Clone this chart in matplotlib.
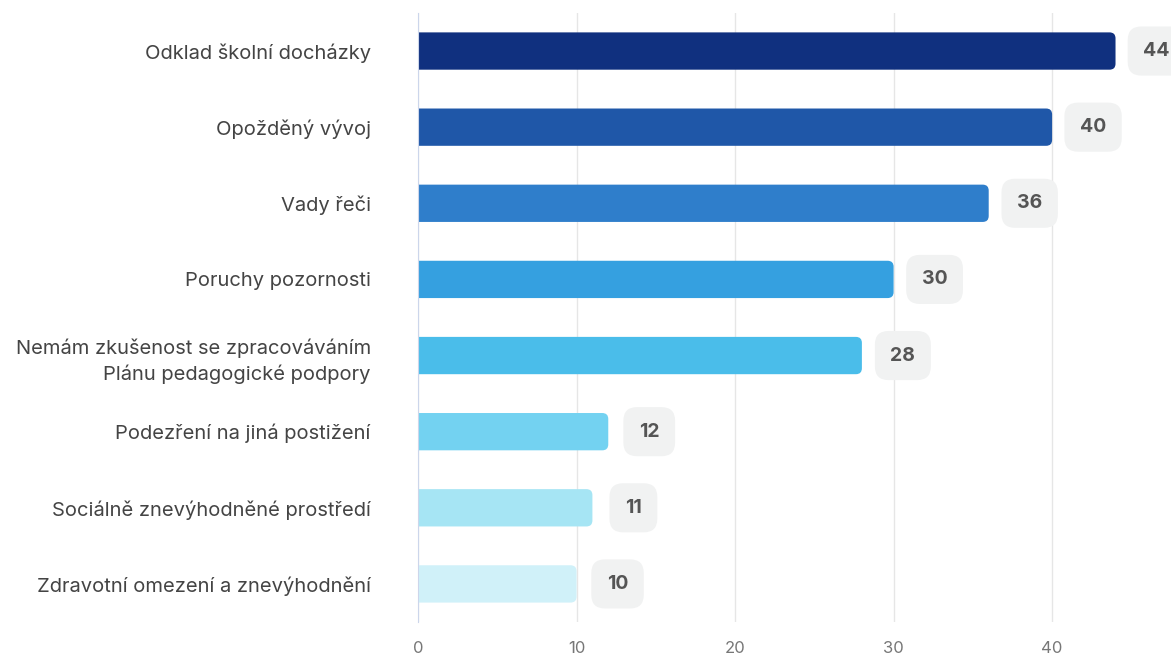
import matplotlib.pyplot as plt
from matplotlib.patches import FancyBboxPatch

plt.rcParams["font.family"] = ["Inter", "DejaVu Sans"]

categories = [
    "Odklad školní docházky",
    "Opožděný vývoj",
    "Vady řeči",
    "Poruchy pozornosti",
    "Nemám zkušenost se zpracováváním\nPlánu pedagogické podpory",
    "Podezření na jiná postižení",
    "Sociálně znevýhodněné prostředí",
    "Zdravotní omezení a znevýhodnění",
]
values = [44, 40, 36, 30, 28, 12, 11, 10]
colors = ["#10307f", "#1f57a8", "#2f7ecb", "#35a0e0", "#4abdea",
          "#73d2f1", "#a6e5f4", "#d0f1f9"]
x_ticks = [0, 10, 20, 30, 40]

fig = plt.figure(figsize=(11.71, 6.55), dpi=100)
ax = fig.add_axes([0.357, 0.0504, 0.643, 0.9298])
ax.set_xlim(0, 47.5)
ax.set_ylim(len(categories) - 0.5, -0.5)

# px per data unit, used to keep the corner rounding circular
px_x = 0.643 * 1171 / 47.5
px_y = 0.9298 * 655 / len(categories)
aspect = px_x / px_y
radius = 6 / px_x
bar_h = 0.49

for i, (v, c) in enumerate(zip(values, colors)):
    bar = FancyBboxPatch(
        (-1, i - bar_h / 2), v + 1, bar_h,
        boxstyle=f"round,pad=0,rounding_size={radius}",
        mutation_aspect=aspect, facecolor=c, edgecolor="none", zorder=3,
    )
    ax.add_patch(bar)
    ax.annotate(
        str(v), xy=(v, i), xytext=(29.5, 0), textcoords="offset points",
        ha="center", va="center", fontsize=14, fontweight="bold", color="#555555",
        bbox=dict(boxstyle="round,pad=0.8,rounding_size=0.7", facecolor="#f1f2f2",
                  edgecolor="none"),
        annotation_clip=False, zorder=4,
    )

ax.set_yticks(range(len(categories)))
ax.set_yticklabels(categories, fontsize=14.5, color="#444444", linespacing=1.45)
ax.set_xticks(x_ticks)
ax.tick_params(axis="both", length=0)
ax.tick_params(axis="y", pad=34)
ax.tick_params(axis="x", pad=14, labelsize=12, labelcolor="#777777")
for lbl in ax.get_yticklabels():
    lbl.set_horizontalalignment("right")

ax.grid(axis="x", color="#e6e6e6", linewidth=1, zorder=0)
for side in ("top", "right", "bottom"):
    ax.spines[side].set_visible(False)
ax.spines["left"].set_color("#ccd6eb")
ax.spines["left"].set_zorder(5)

fig.savefig("out.png", dpi=100)
